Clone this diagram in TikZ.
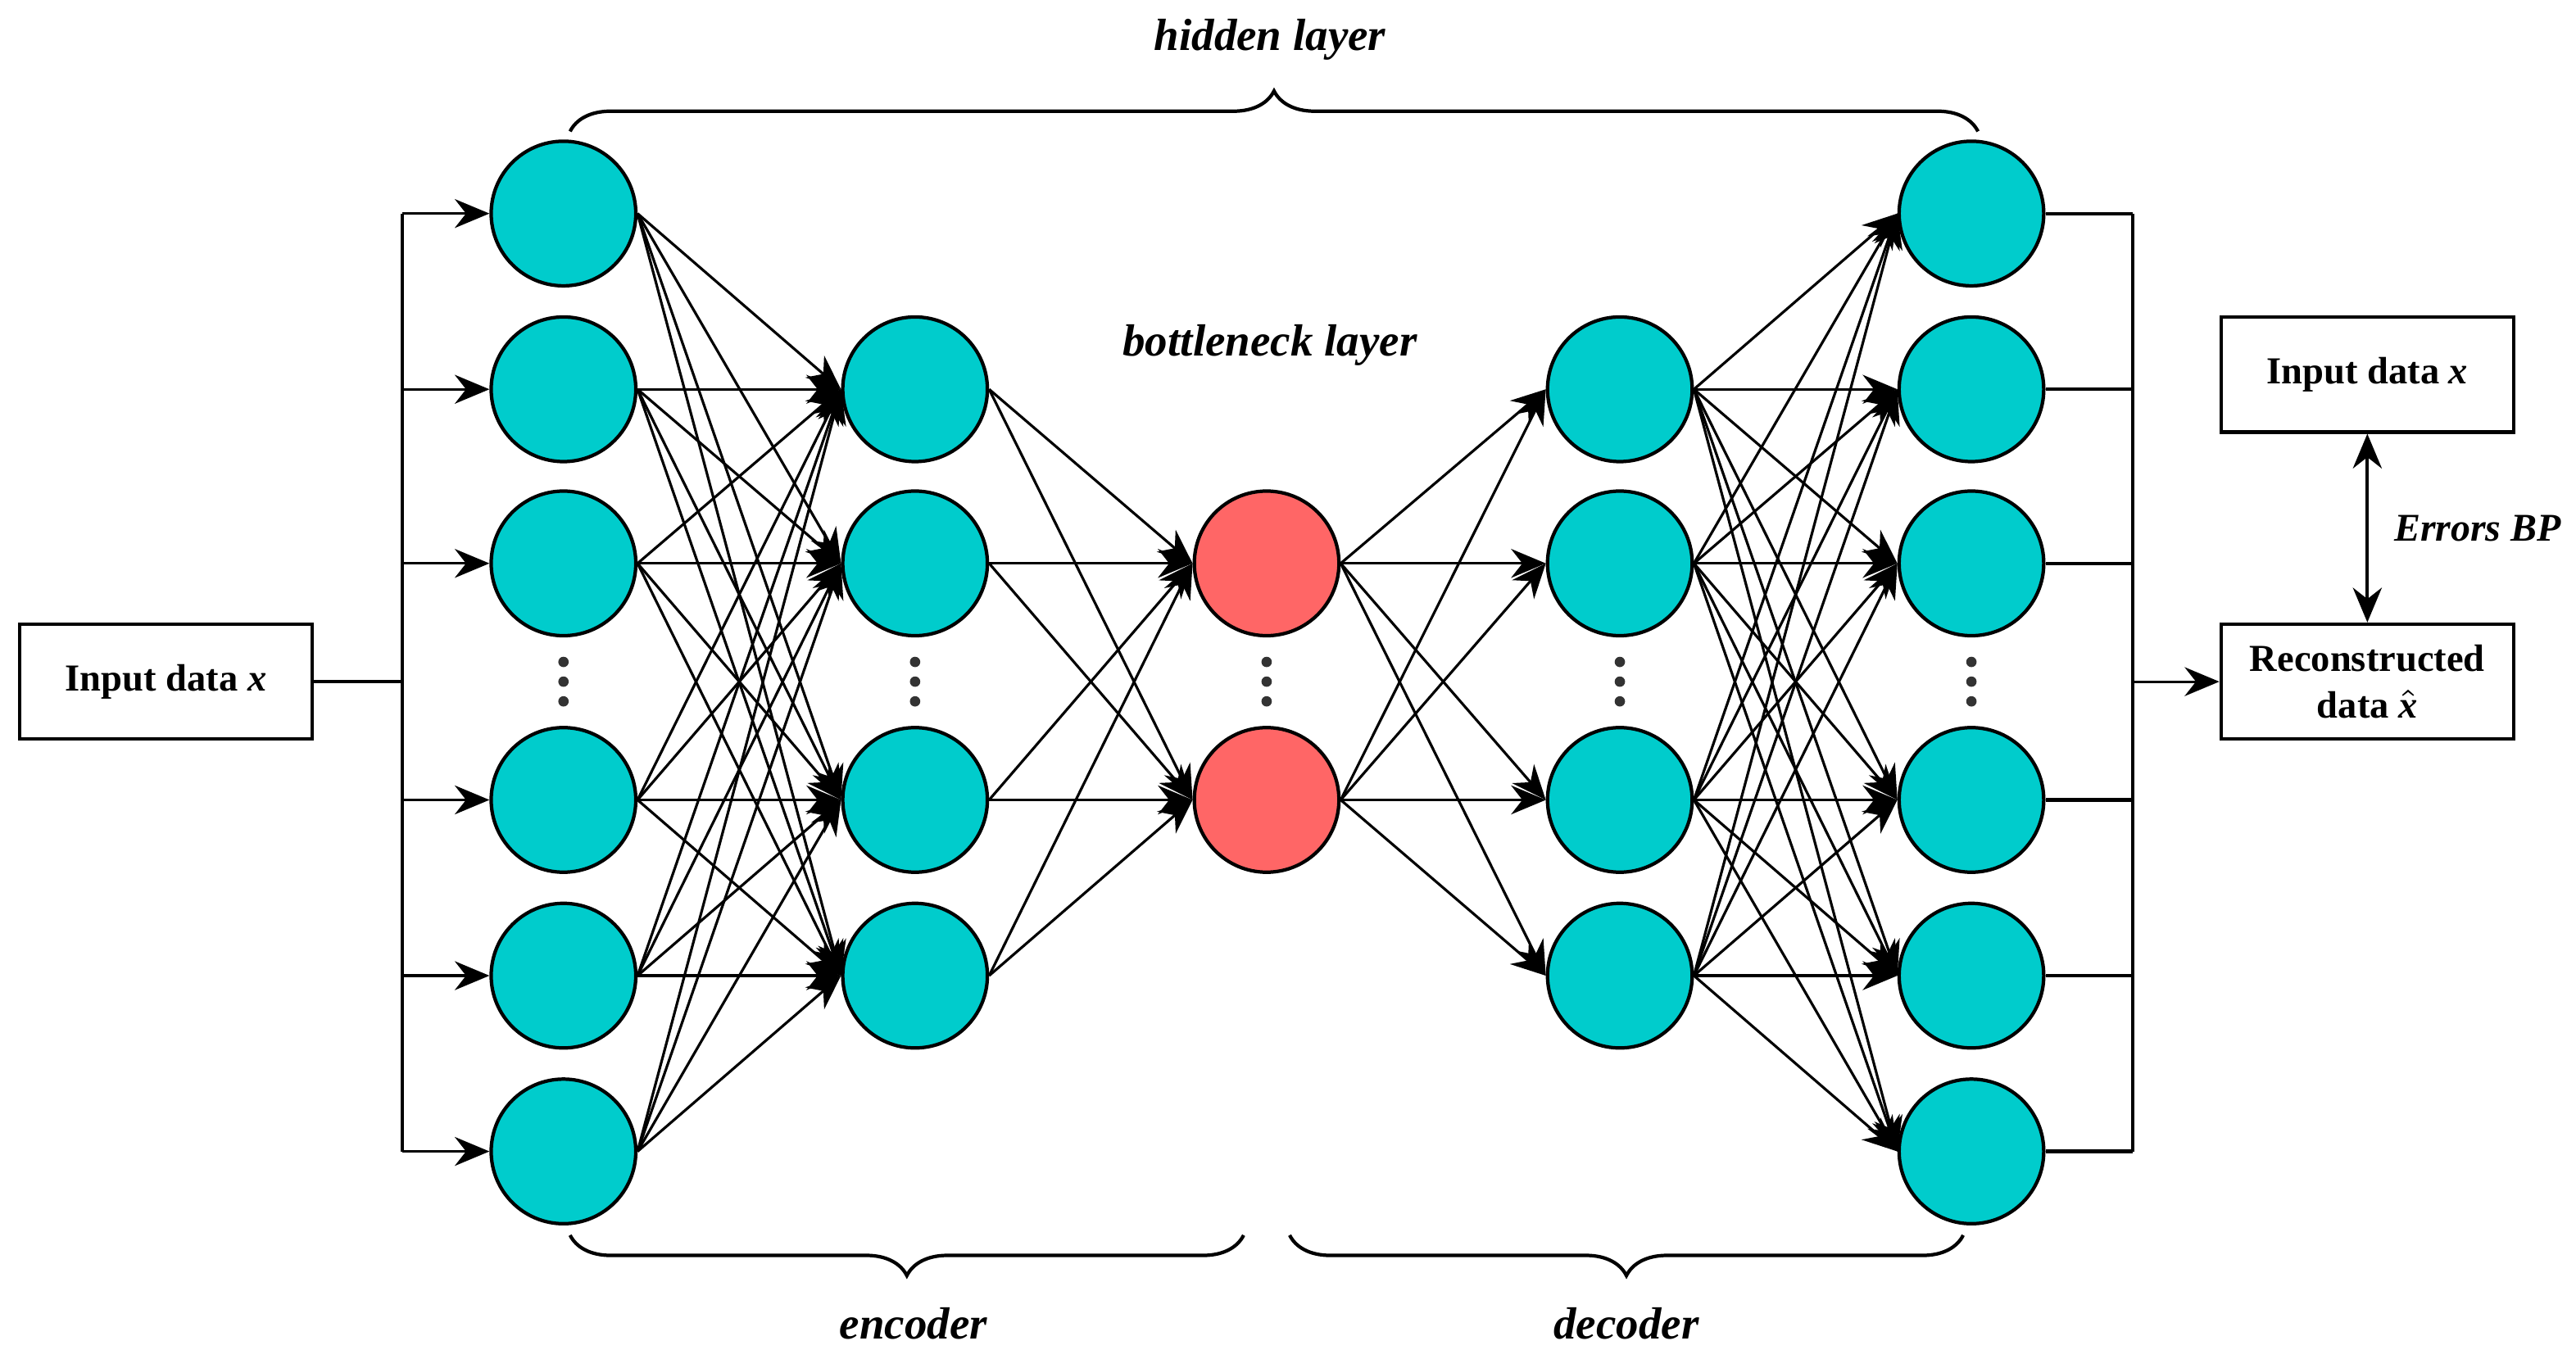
\documentclass[tikz,border=0pt]{standalone}
\usepackage{fontspec}
\setmainfont{Liberation Serif}
\usetikzlibrary{arrows.meta,decorations.pathreplacing}
\begin{document}
\begin{tikzpicture}[x=0.01cm,y=-0.01cm,
  neu/.style={circle,draw,line width=0.6pt,minimum size=0.88cm,inner sep=0pt,fill=cyanN},
  red/.style={neu,fill=redN},
  box/.style={draw,line width=0.6pt,font=\fontsize{6.6}{8}\selectfont\bfseries,align=center,minimum width=1.78cm,minimum height=0.7cm},
  lbl/.style={font=\fontsize{7.8}{9}\selectfont\bfseries\itshape},
  con/.style={-{Stealth[length=6pt,width=5pt]},line width=0.45pt},
  brc/.style={decorate,decoration={brace,amplitude=7pt},line width=0.6pt}]
\definecolor{cyanN}{RGB}{0,204,204}
\definecolor{redN}{RGB}{255,102,102}
\useasboundingbox (0,0) rectangle (1568,827);
% layers
\foreach \i/\y in {1/130,2/237,3/343,4/487,5/594,6/701}{
  \node[neu] (a\i) at (343,\y) {};
  \node[neu] (e\i) at (1200,\y) {};}
\foreach \i/\y in {1/237,2/343,3/487,4/594}{
  \node[neu] (b\i) at (557,\y) {};
  \node[neu] (d\i) at (986,\y) {};}
\node[red] (c1) at (771,343) {};
\node[red] (c2) at (771,487) {};
\foreach \x in {343,557,771,986,1200}{\foreach \yy in {403,415,427}{\fill[black!80] (\x,\yy) circle (0.9pt);}}
% connections
\foreach \i in {1,...,6}{\foreach \j in {1,...,4}{
  \draw[con] (a\i.east) -- (b\j.west);
  \draw[con] (d\j.east) -- (e\i.west);}}
\foreach \j in {1,...,4}{\foreach \k in {1,2}{
  \draw[con] (b\j.east) -- (c\k.west);
  \draw[con] (c\k.east) -- (d\j.west);}}
% input
\node[box] (in) at (101,415) {Input data \textit{x}};
\coordinate (sp) at (245,415);
\draw[line width=0.6pt] (in.east) -- (sp);
\draw[line width=0.6pt] (245,130) -- (245,701);
\foreach \i in {1,...,6}{\draw[con] (245,0 |- a\i) -- (a\i.west);}
% output
\node[box] (rec) at (1441,415) {Reconstructed\\data $\hat{\textit{x}}$};
\node[box] (in2) at (1441,228) {Input data \textit{x}};
\foreach \i in {1,...,6}{\draw[line width=0.6pt] (e\i.east) -- (1298,0 |- e\i);}
\draw[line width=0.6pt] (1298,130) -- (1298,701);
\coordinate (jn) at (1298,415);
\draw[con] (jn) -- (rec.west);
\draw[{Stealth[length=6pt,width=5pt]}-{Stealth[length=6pt,width=5pt]},line width=0.6pt] (in2.south) -- (rec.north) node[midway,right=1pt,lbl,font=\fontsize{6.8}{8}\selectfont\bfseries\itshape] {Errors BP};
% braces
\draw[brc] (347,80) -- (1204,80);
\node[lbl] at (773,24) {hidden layer};
\node[lbl] at (773,210) {bottleneck layer};
\draw[brc] (757,752) -- (347,752);
\draw[brc] (1195,752) -- (785,752);
\node[lbl] at (556,806) {encoder};
\node[lbl] at (990,806) {decoder};
\end{tikzpicture}
\end{document}
